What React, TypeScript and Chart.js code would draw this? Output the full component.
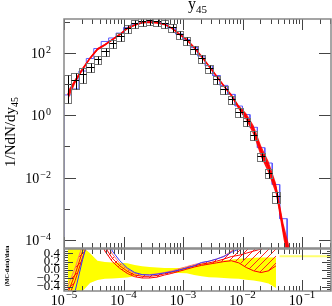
import React, { useEffect, useRef } from 'react';
import { Chart, registerables } from 'chart.js';

Chart.register(...registerables);

// ---------- data ----------
// bin edges, as log10(y45)
const BIN_EDGES_LOG = [-5, -4.875, -4.75, -4.625, -4.5, -4.375, -4.25, -4.125, -4, -3.875, -3.75, -3.625, -3.5, -3.375, -3.25, -3.125, -3, -2.875, -2.75, -2.625, -2.5, -2.375, -2.25, -2.125, -2, -1.875, -1.75, -1.625, -1.5, -1.375, -1.25, -1.125];

// measured 1/N dN/dy45 per bin
const DATA_VALUES = [10, 14, 21, 35, 63, 117, 209, 355, 630, 890, 1100, 1150, 1070, 910, 660, 405, 255, 135, 67, 32, 15, 6.9, 3.3, 1.32, 0.65, 0.235, 0.048, 0.014, 0.0026];
// relative data uncertainties (up / down)
const DATA_ERR_UP = [1.0, 0.6, 0.55, 0.4, 0.22, 0.19, 0.18, 0.17, 0.16, 0.12, 0.09, 0.07, 0.06, 0.05, 0.05, 0.05, 0.07, 0.12, 0.15, 0.17, 0.2, 0.23, 0.25, 0.27, 0.28, 0.29, 0.3, 0.3, 0.3];
const DATA_ERR_DOWN = [0.75, 0.5, 0.5, 0.31, 0.24, 0.21, 0.2, 0.19, 0.18, 0.15, 0.13, 0.12, 0.1, 0.08, 0.07, 0.07, 0.08, 0.12, 0.15, 0.17, 0.18, 0.19, 0.2, 0.21, 0.23, 0.25, 0.28, 0.32, 0.43];

// (MC - data)/data of the blue generator
const BLUE_RATIO = [-0.55, -0.5, 0.25, 0.9, 1.2, 1.0, 0.45, 0.22, 0.05, -0.06, -0.11, -0.12, -0.1, -0.07, -0.04, 0.0, 0.05, 0.1, 0.18, 0.21, 0.26, 0.32, 0.42, 0.5, 0.62, 0.75, 0.9, 1.1, 1.3];
// blue MC beyond the last data bin (absolute)
const BLUE_TAIL = [4.8e-4, 3e-5];

// (MC - data)/data of the red generator: central, lower and upper edge of its band
const RED_RATIO = [-0.55, -0.1, 0.45, 0.95, 1.1, 0.55, 0.28, 0.1, -0.03, -0.12, -0.15, -0.15, -0.13, -0.09, -0.05, 0.0, 0.05, 0.1, 0.14, 0.17, 0.21, 0.26, 0.32, 0.35, 0.4, 0.45, 0.5, 0.6, 0.8];
const RED_LO_RATIO = [-0.7, -0.25, 0.3, 0.8, 0.9, 0.45, 0.2, 0.04, -0.08, -0.16, -0.19, -0.19, -0.17, -0.12, -0.08, -0.03, 0.02, 0.07, 0.11, 0.14, 0.17, 0.2, 0.22, 0.17, 0.06, -0.02, -0.06, -0.02, 0.1];
const RED_HI_RATIO = [-0.4, 0.05, 0.6, 1.1, 1.3, 0.7, 0.38, 0.16, 0.02, -0.08, -0.11, -0.11, -0.09, -0.06, -0.02, 0.03, 0.08, 0.13, 0.17, 0.21, 0.26, 0.33, 0.45, 0.6, 0.8, 1.0, 1.2, 1.4, 1.6];
// red MC beyond the last data bin (absolute)
const RED_TAIL = [2e-4, 1.5e-5];
const RED_TAIL_LO = [1.1e-4, 6e-6];
const RED_TAIL_HI = [3.5e-4, 4e-5];

// thin yellow line in the ratio panel after the data ends
const YELLOW_TAIL_X = [0.042, 0.307];
const YELLOW_TAIL_Y = [0.33, 0.33];

// axes
const X_MIN = 1e-5;
const X_MAX = 0.307;
const Y_MIN = 5.5e-5;
const Y_MAX = 1230;
const R_MIN = -0.5;
const R_MAX = 0.5;
const X_LABEL_EXPS = [-5, -4, -3, -2, -1];
const Y_LABEL_EXPS = [-4, -2, 0, 2];
const RATIO_LABELS = [0.4, 0.2, 0.0, -0.2, -0.4];

const TITLE = 'y';
const TITLE_SUB = '45';
const Y_TITLE = '1/NdN/dy';
const Y_TITLE_SUB = '45';
const RATIO_TITLE = '(MC-data)/data';

// ---------- drawing helpers ----------
const W = 332;
const H = 306;
const FONT = "'Liberation Serif', 'DejaVu Serif', serif";

function powLabel(exp: number) {
  return exp < 0 ? '\u2212' + String(-exp) : String(exp);
}

function drawPow(ctx: CanvasRenderingContext2D, exp: number, x: number, y: number, align: 'center' | 'right', baseSize: number, supSize: number, raise: number) {
  const base = '10';
  const sup = powLabel(exp);
  ctx.font = `${baseSize}px ${FONT}`;
  const wb = ctx.measureText(base).width;
  ctx.font = `${supSize}px ${FONT}`;
  const ws = ctx.measureText(sup).width;
  const total = wb + 1 + ws;
  const x0 = align === 'center' ? x - total / 2 : x - total;
  ctx.textAlign = 'left';
  ctx.textBaseline = 'alphabetic';
  ctx.fillStyle = '#000';
  ctx.font = `${baseSize}px ${FONT}`;
  ctx.fillText(base, x0, y);
  ctx.font = `${supSize}px ${FONT}`;
  ctx.fillText(sup, x0 + wb + 1, y - raise);
}

function drawXTicks(ctx: CanvasRenderingContext2D, x: any, yEdge: number, dir: number) {
  for (let e = -6; e <= 1; e++) {
    for (let m = 1; m <= 9; m++) {
      const v = m * Math.pow(10, e);
      if (v < X_MIN * 0.999 || v > X_MAX) continue;
      const px = Math.round(x.getPixelForValue(v)) + 0.5;
      const len = m === 1 ? 11 : 5;
      ctx.moveTo(px, yEdge);
      ctx.lineTo(px, yEdge + dir * len);
    }
  }
}

function hatchPattern(target: CanvasRenderingContext2D, color: string) {
  const s = 7;
  const pc = document.createElement('canvas');
  pc.width = s;
  pc.height = s;
  const p = pc.getContext('2d')!;
  p.strokeStyle = color;
  p.lineWidth = 1;
  p.beginPath();
  p.moveTo(0, s);
  p.lineTo(s, 0);
  p.moveTo(-1, 1);
  p.lineTo(1, -1);
  p.moveTo(s - 1, s + 1);
  p.lineTo(s + 1, s - 1);
  p.stroke();
  return target.createPattern(pc, 'repeat')!;
}

export default function App() {
  const mainRef = useRef<HTMLCanvasElement>(null);
  const ratioRef = useRef<HTMLCanvasElement>(null);

  useEffect(() => {
    const edgesX = BIN_EDGES_LOG.map((e) => Math.pow(10, e));
    const centersX = BIN_EDGES_LOG.slice(0, -1).map((e, i) => Math.pow(10, (e + BIN_EDGES_LOG[i + 1]) / 2));
    const n = DATA_VALUES.length;

    // main-panel MC curves
    const blueMain = [...DATA_VALUES.map((d, i) => d * (1 + BLUE_RATIO[i])), ...BLUE_TAIL];
    const blueSteps: { x: number; y: number }[] = [{ x: edgesX[0], y: Y_MIN / 100 }];
    blueMain.forEach((v, i) => {
      blueSteps.push({ x: edgesX[i], y: v }, { x: edgesX[i + 1], y: v });
    });
    blueSteps.push({ x: edgesX[blueMain.length], y: Y_MIN / 100 });

    const redMid = [...DATA_VALUES.map((d, i) => d * (1 + RED_RATIO[i])), ...RED_TAIL].map((v, i) => ({ x: centersX[i], y: v }));
    const redLo = [...DATA_VALUES.map((d, i) => d * (1 + RED_LO_RATIO[i])), ...RED_TAIL_LO].map((v, i) => ({ x: centersX[i], y: v }));
    const redHi = [...DATA_VALUES.map((d, i) => d * (1 + RED_HI_RATIO[i])), ...RED_TAIL_HI].map((v, i) => ({ x: centersX[i], y: v }));

    const line = (data: any[], color: string, width: number, extra: any = {}) => ({
      type: 'line' as const,
      data,
      borderColor: color,
      borderWidth: width,
      pointRadius: 0,
      fill: false,
      tension: 0,
      ...extra,
    });

    const mainDecor = {
      id: 'mainDecor',
      afterDatasetsDraw(chart: any) {
        const { ctx, chartArea: a } = chart;
        const { x, y } = chart.scales;
        ctx.save();
        ctx.beginPath();
        ctx.rect(a.left, a.top, a.right - a.left, a.bottom - a.top);
        ctx.clip();
        DATA_VALUES.forEach((v, i) => {
          const xl = Math.round(x.getPixelForValue(edgesX[i])) + 0.5;
          const xr = Math.round(x.getPixelForValue(edgesX[i + 1])) + 0.5;
          const xc = Math.round((xl + xr) / 2) + 0.5;
          const yc = Math.round(y.getPixelForValue(v)) + 0.5;
          let yt = y.getPixelForValue(v * (1 + DATA_ERR_UP[i]));
          let yb = y.getPixelForValue(v * (1 - DATA_ERR_DOWN[i]));
          yt = Math.round(Math.min(yt, yc - 4)) + 0.5;
          yb = Math.round(Math.max(yb, yc + 4)) + 0.5;
          ctx.lineWidth = 1;
          ctx.strokeStyle = '#777';
          ctx.strokeRect(xl, yt, xr - xl, yb - yt);
          ctx.strokeStyle = '#000';
          ctx.beginPath();
          ctx.moveTo(xl, yc);
          ctx.lineTo(xr, yc);
          ctx.moveTo(xc, yt);
          ctx.lineTo(xc, yb);
          ctx.stroke();
        });
        ctx.restore();
      },
      afterDraw(chart: any) {
        const { ctx, chartArea: a } = chart;
        const { x, y } = chart.scales;
        ctx.save();
        // ticks
        ctx.strokeStyle = '#444';
        ctx.lineWidth = 1;
        ctx.beginPath();
        drawXTicks(ctx, x, a.top, 1);
        drawXTicks(ctx, x, a.bottom, -1);
        for (let e = -5; e <= 3; e++) {
          const v = Math.pow(10, e);
          if (v < Y_MIN || v > Y_MAX) continue;
          const py = Math.round(y.getPixelForValue(v)) + 0.5;
          const labeled = Y_LABEL_EXPS.includes(e);
          ctx.moveTo(a.left, py);
          ctx.lineTo(a.left + (labeled ? 12 : 6), py);
          if (labeled) {
            ctx.moveTo(a.right, py);
            ctx.lineTo(a.right - 12, py);
          }
        }
        ctx.stroke();
        // frame
        ctx.strokeStyle = '#888';
        ctx.lineWidth = 1.5;
        ctx.strokeRect(a.left, a.top, a.right - a.left, a.bottom - a.top);
        // y labels
        Y_LABEL_EXPS.forEach((e) => {
          const py = y.getPixelForValue(Math.pow(10, e));
          drawPow(ctx, e, 51, py + 5, 'right', 14, 10, 5);
        });
        // title
        ctx.fillStyle = '#000';
        ctx.textBaseline = 'alphabetic';
        ctx.textAlign = 'left';
        ctx.font = `16px ${FONT}`;
        const tw = ctx.measureText(TITLE).width;
        ctx.font = `11px ${FONT}`;
        const sw = ctx.measureText(TITLE_SUB).width;
        const cx = (a.left + a.right) / 2;
        const t0 = cx - (tw + sw) / 2;
        ctx.font = `16px ${FONT}`;
        ctx.fillText(TITLE, t0, 9);
        ctx.font = `11px ${FONT}`;
        ctx.fillText(TITLE_SUB, t0 + tw, 13);
        // y-axis title
        ctx.save();
        ctx.translate(15, 132);
        ctx.rotate(-Math.PI / 2);
        ctx.font = `15px ${FONT}`;
        const yw = ctx.measureText(Y_TITLE).width;
        ctx.font = `10px ${FONT}`;
        const ysw = ctx.measureText(Y_TITLE_SUB).width;
        const y0 = -(yw + ysw) / 2;
        ctx.font = `15px ${FONT}`;
        ctx.fillText(Y_TITLE, y0, 0);
        ctx.font = `10px ${FONT}`;
        ctx.fillText(Y_TITLE_SUB, y0 + yw, 3);
        ctx.restore();
        ctx.restore();
      },
    };

    const c1 = new Chart(mainRef.current!, {
      type: 'line',
      data: {
        datasets: [
          line(redMid, '#ff0000', 1.6, { order: 1 }),
          line(redHi, 'rgba(255,0,0,0)', 0, { order: 2, fill: '+1', backgroundColor: 'rgba(255,0,0,0.9)' }),
          line(redLo, 'rgba(255,0,0,0)', 0, { order: 3 }),
          line(blueSteps, '#5a5aff', 1, { order: 4 }),
        ] as any,
      },
      options: {
        responsive: false,
        animation: false,
        events: [],
        layout: { padding: { top: 19, bottom: H - 248, left: 64, right: 1 } },
        plugins: { legend: { display: false }, tooltip: { enabled: false }, title: { display: false } },
        scales: {
          x: { type: 'logarithmic', min: X_MIN, max: X_MAX, display: false },
          y: { type: 'logarithmic', min: Y_MIN, max: Y_MAX, display: false },
        },
      } as any,
      plugins: [mainDecor],
    });

    // ---------- ratio panel ----------
    const rctx = ratioRef.current!.getContext('2d')!;
    const hatch = hatchPattern(rctx, '#ff2020');
    const rc = centersX.slice(0, n);
    const pts = (arr: number[]) => arr.map((v, i) => ({ x: rc[i], y: v }));
    const yellowLo = pts(DATA_ERR_DOWN.map((v) => -v));
    const yellowHi = pts(DATA_ERR_UP);
    const yellowTail = YELLOW_TAIL_X.map((xv, i) => ({ x: xv, y: YELLOW_TAIL_Y[i] }));

    const ratioDecor = {
      id: 'ratioDecor',
      afterDraw(chart: any) {
        const { ctx, chartArea: a } = chart;
        const { x, y } = chart.scales;
        ctx.save();
        ctx.strokeStyle = '#444';
        ctx.lineWidth = 1;
        ctx.beginPath();
        drawXTicks(ctx, x, a.top, 1);
        drawXTicks(ctx, x, a.bottom, -1);
        for (let k = -10; k <= 10; k++) {
          const v = k * 0.05;
          if (v <= R_MIN + 1e-9 || v >= R_MAX - 1e-9) continue;
          const py = Math.round(y.getPixelForValue(v)) + 0.5;
          const major = k % 4 === 0;
          const len = major ? 9 : 4;
          ctx.moveTo(a.left, py);
          ctx.lineTo(a.left + len, py);
          ctx.moveTo(a.right, py);
          ctx.lineTo(a.right - len, py);
        }
        ctx.stroke();
        ctx.strokeStyle = '#888';
        ctx.lineWidth = 1.5;
        ctx.strokeRect(a.left, a.top, a.right - a.left, a.bottom - a.top);
        // ratio labels
        ctx.fillStyle = '#000';
        ctx.font = `13px ${FONT}`;
        ctx.textAlign = 'right';
        ctx.textBaseline = 'middle';
        RATIO_LABELS.forEach((v) => {
          const py = y.getPixelForValue(v);
          const s = v < 0 ? '\u2212' + Math.abs(v).toFixed(1) : v.toFixed(1);
          ctx.fillText(s, 60, py);
        });
        // x labels
        X_LABEL_EXPS.forEach((e) => {
          const px = x.getPixelForValue(Math.pow(10, e));
          drawPow(ctx, e, px, 305, 'center', 14, 11, 7);
        });
        // ratio title
        ctx.save();
        ctx.translate(9, 266);
        ctx.rotate(-Math.PI / 2);
        ctx.font = `bold 6px ${FONT}`;
        ctx.textAlign = 'center';
        ctx.textBaseline = 'alphabetic';
        ctx.fillText(RATIO_TITLE, 0, 0);
        ctx.restore();
        ctx.restore();
      },
    };

    const c2 = new Chart(ratioRef.current!, {
      type: 'line',
      data: {
        datasets: [
          line(pts(BLUE_RATIO), '#3535ff', 1, { order: 1 }),
          line(pts(RED_RATIO), '#ff0000', 1, { order: 2 }),
          line(pts(RED_HI_RATIO), '#ff7070', 1, { order: 3, fill: '+1', backgroundColor: hatch }),
          line(pts(RED_LO_RATIO), '#ff0000', 1, { order: 4 }),
          line(yellowTail, '#ffff70', 2, { order: 5 }),
          line(yellowHi, 'rgba(0,0,0,0)', 0, { order: 6, fill: '+1', backgroundColor: '#ffff00' }),
          line(yellowLo, 'rgba(0,0,0,0)', 0, { order: 7 }),
        ] as any,
      },
      options: {
        responsive: false,
        animation: false,
        events: [],
        layout: { padding: { top: 249, bottom: H - 291, left: 64, right: 1 } },
        plugins: { legend: { display: false }, tooltip: { enabled: false }, title: { display: false } },
        scales: {
          x: { type: 'logarithmic', min: X_MIN, max: X_MAX, display: false },
          y: { type: 'linear', min: R_MIN, max: R_MAX, display: false },
        },
      } as any,
      plugins: [ratioDecor],
    });

    return () => {
      c1.destroy();
      c2.destroy();
    };
  }, []);

  return (
    <div style={{ position: 'fixed', left: 0, top: 0, width: W, height: H, background: '#fff' }}>
      <canvas ref={mainRef} width={W} height={H} style={{ position: 'absolute', left: 0, top: 0 }} />
      <canvas ref={ratioRef} width={W} height={H} style={{ position: 'absolute', left: 0, top: 0 }} />
    </div>
  );
}
